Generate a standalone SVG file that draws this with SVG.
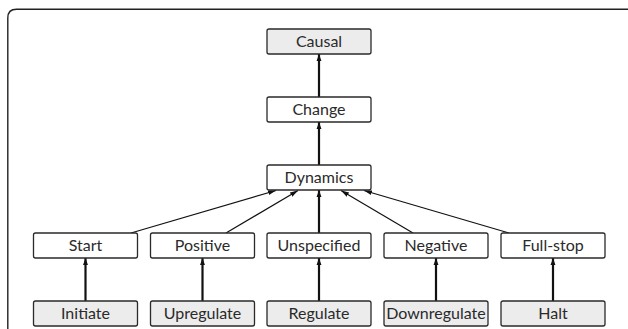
<svg xmlns="http://www.w3.org/2000/svg" width="628" height="329" viewBox="0 0 628 329">
<defs>
<style>
.box{fill:#ffffff;stroke:#2a2a2a;stroke-width:1.3}
.gray{fill:#ececec}
.lbl{font-family:Lato,"Liberation Sans",sans-serif;font-size:16px;font-weight:400;fill:#2a2a2a;text-anchor:middle}
.thick{stroke:#111;stroke-width:2.2;fill:none}
.thin{stroke:#111;stroke-width:1.2;fill:none}
</style>
<marker id="ah" viewBox="0 0 10 10" refX="10" refY="5" markerWidth="7" markerHeight="7" markerUnits="userSpaceOnUse" orient="auto">
<path d="M0,1.5 L10,5 L0,8.5 Z" fill="#111"/>
</marker>
<marker id="ah2" viewBox="0 0 10 10" refX="10" refY="5" markerWidth="8" markerHeight="8" markerUnits="userSpaceOnUse" orient="auto">
<path d="M0,2 L10,5 L0,8 Z" fill="#111"/>
</marker>
</defs>
<rect width="628" height="329" fill="#ffffff"/>
<path d="M7.8,329 V18 Q7.8,9.3 16.5,9.3 H628" fill="none" stroke="#222" stroke-width="1.4"/>
<g id="connectors">
<line class="thick" x1="319" y1="97" x2="319" y2="54" marker-end="url(#ah)"/>
<line class="thick" x1="319" y1="165" x2="319" y2="122" marker-end="url(#ah)"/>
<line class="thick" x1="319" y1="233" x2="319" y2="190" marker-end="url(#ah)"/>
<line class="thin" x1="131" y1="233" x2="276" y2="190.5" marker-end="url(#ah2)"/>
<line class="thin" x1="226" y1="233" x2="298" y2="190.5" marker-end="url(#ah2)"/>
<line class="thin" x1="413" y1="233" x2="341" y2="190.5" marker-end="url(#ah2)"/>
<line class="thin" x1="509" y1="233" x2="364" y2="190.5" marker-end="url(#ah2)"/>
<line class="thick" x1="85.5" y1="301" x2="85.5" y2="258" marker-end="url(#ah)"/>
<line class="thick" x1="202.5" y1="301" x2="202.5" y2="258" marker-end="url(#ah)"/>
<line class="thick" x1="319" y1="301" x2="319" y2="258" marker-end="url(#ah)"/>
<line class="thick" x1="436" y1="301" x2="436" y2="258" marker-end="url(#ah)"/>
<line class="thick" x1="553" y1="301" x2="553" y2="258" marker-end="url(#ah)"/>
</g>
<g id="causal"><rect class="box gray" x="267" y="29" width="104" height="25" rx="2"/><text class="lbl" x="319" y="47">Causal</text></g>
<g id="change"><rect class="box" x="267" y="97" width="104" height="25" rx="2"/><text class="lbl" x="319" y="115">Change</text></g>
<g id="dynamics"><rect class="box" x="267" y="165" width="104" height="25" rx="2"/><text class="lbl" x="319" y="183">Dynamics</text></g>
<g id="start"><rect class="box" x="33.5" y="233" width="104" height="25" rx="2"/><text class="lbl" x="85.5" y="251">Start</text></g>
<g id="positive"><rect class="box" x="150.5" y="233" width="104" height="25" rx="2"/><text class="lbl" x="202.5" y="251">Positive</text></g>
<g id="unspecified"><rect class="box" x="267" y="233" width="104" height="25" rx="2"/><text class="lbl" x="319" y="251">Unspecified</text></g>
<g id="negative"><rect class="box" x="384" y="233" width="104" height="25" rx="2"/><text class="lbl" x="436" y="251">Negative</text></g>
<g id="fullstop"><rect class="box" x="501" y="233" width="104" height="25" rx="2"/><text class="lbl" x="553" y="251">Full-stop</text></g>
<g id="initiate"><rect class="box gray" x="33.5" y="301" width="104" height="25" rx="2"/><text class="lbl" x="85.5" y="319">Initiate</text></g>
<g id="upregulate"><rect class="box gray" x="150.5" y="301" width="104" height="25" rx="2"/><text class="lbl" x="202.5" y="319">Upregulate</text></g>
<g id="regulate"><rect class="box gray" x="267" y="301" width="104" height="25" rx="2"/><text class="lbl" x="319" y="319">Regulate</text></g>
<g id="downregulate"><rect class="box gray" x="384" y="301" width="104" height="25" rx="2"/><text class="lbl" x="436" y="319">Downregulate</text></g>
<g id="halt"><rect class="box gray" x="501" y="301" width="104" height="25" rx="2"/><text class="lbl" x="553" y="319">Halt</text></g>
</svg>
